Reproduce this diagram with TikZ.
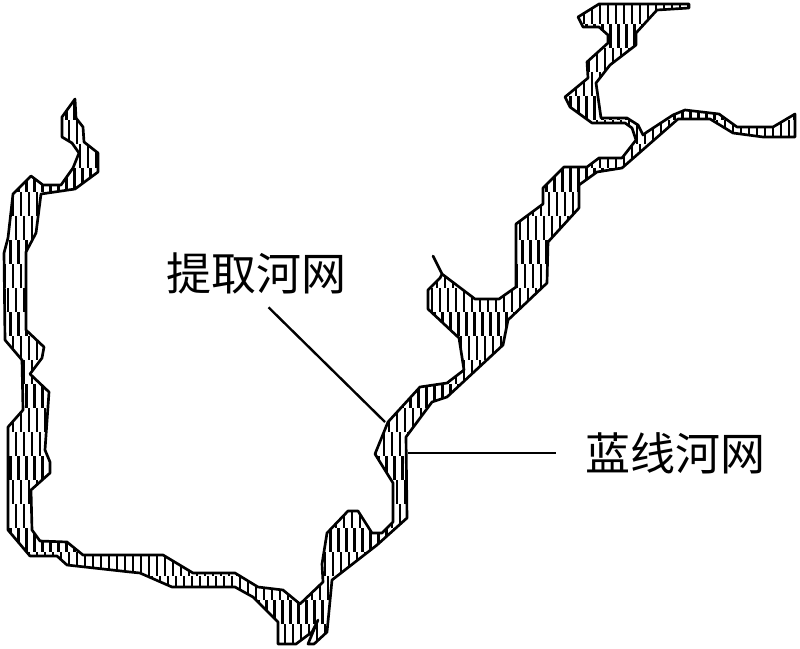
\documentclass[tikz,border=0pt]{standalone}
\usepackage{fontspec}
\newfontfamily\cjk{Noto Sans CJK SC}
\tikzset{%
  % Specifications for style of lines and labels:
    outline/.style = {line width=1.9pt, line join=round, black},
    hatch/.style = {line width=1.5pt, black},
    leader/.style = {line width=1.7pt, black},
    rivername/.style = {font=\cjk\fontsize{32}{32}\selectfont, inner xsep=0pt, inner ysep=0pt, minimum height=1.7cm}
}
\def\riverOutline{(75,99) -- (62,117) -- (62,137) -- (72,143) -- (79,153) -- (73,168) -- (61,185) -- (43,185) -- (31,176)
  -- (13,194) -- (8,238) -- (4,253) -- (5,340) -- (22,360) -- (23,410) -- (8,427) -- (8,530) -- (30,556) -- (57,556)
  -- (67,565) -- (130,572) -- (140,573) -- (172,587) -- (235,587) -- (253,597) -- (278,622) -- (278,644) -- (296,644)
  -- (312,632) -- (318,620) -- (308,644) -- (314,644) -- (327,632) -- (332,580) -- (377,545) -- (407,518) -- (406,437)
  -- (432,402) -- (447,397) -- (503,345) -- (508,320) -- (547,283) -- (548,242) -- (579,208) -- (579,185) -- (597,172)
  -- (622,168) -- (678,119) -- (710,119) -- (733,133) -- (763,137) -- (795,137) -- (795,114) -- (773,127) -- (737,127)
  -- (719,114) -- (685,110) -- (673,115) -- (647,132) -- (643,135) -- (638,125) -- (627,118) -- (601,118) -- (596,83)
  -- (610,65) -- (636,45) -- (636,33) -- (657,10) -- (689,8) -- (689,4) -- (599,4) -- (578,17) -- (583,27) -- (599,27)
  -- (608,35) -- (608,43) -- (587,62) -- (588,78) -- (565,97) -- (570,107) -- (592,123) -- (625,123) -- (632,128)
  -- (636,140) -- (622,158) -- (599,158) -- (587,167) -- (564,167) -- (543,188) -- (543,204) -- (516,224) -- (516,287)
  -- (499,299) -- (475,299) -- (442,274) -- (433,256) -- (442,274) -- (440,278) -- (428,290) -- (428,309) -- (459,338)
  -- (464,370) -- (447,383) -- (420,387) -- (388,422) -- (375,454) -- (393,483) -- (393,522) -- (382,533) -- (372,533)
  -- (358,511) -- (348,511) -- (327,533) -- (322,564) -- (323,582) -- (300,604) -- (283,590) -- (258,587) -- (235,573)
  -- (193,573) -- (163,555) -- (83,555) -- (67,542) -- (40,541) -- (32,530) -- (31,490) -- (50,473) -- (50,462) -- (45,450)
  -- (49,392) -- (30,374) -- (42,358) -- (44,347) -- (26,330) -- (26,252) -- (36,233) -- (41,194) -- (75,189)
  -- (98,172) -- (98,153) -- (84,142) -- (83,127) -- (76,118) -- cycle}

\begin{document}
\begin{tikzpicture}[x=0.025cm,y=-0.025cm]
\useasboundingbox (0,0) rectangle (800,649);

% hatch in rows, each row shifted a little
\begin{scope}
\clip \riverOutline;
\foreach \r [evaluate=\r as \dx using {mod(\r,3)*2.5}] in {0,...,27}{
  \foreach \c in {0,...,100}{
    \draw[hatch] ({\c*8+\dx},{\r*24}) -- ({\c*8+\dx},{(\r+1)*24});
  }
}
\end{scope}
\draw[outline] \riverOutline;

\node[rivername] (extracted) at (256,273) {提取河网};
\node[rivername, inner xsep=0.725cm] (blueline) at (675,453) {蓝线河网};

\coordinate (extractedEnd) at (385,422);
\coordinate (bluelineEnd) at (408,453);
\draw[leader] (extracted.-70) -- (extractedEnd);
\draw[leader] (blueline.west) -- (bluelineEnd);

\end{tikzpicture}
\end{document}
